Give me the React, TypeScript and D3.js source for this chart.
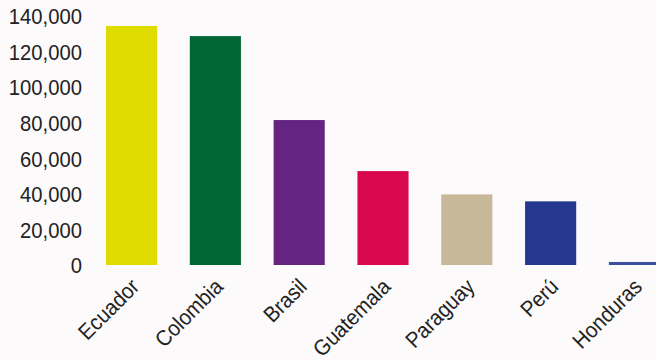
import React from "react";
import * as d3 from "d3";

const categories = ["Ecuador", "Colombia", "Brasil", "Guatemala", "Paraguay", "Perú", "Honduras"];
const values = [134400, 128700, 81500, 52800, 39700, 35800, 1700];
const colors = ["#e0dc00", "#006633", "#662482", "#d9084e", "#c8b89a", "#24388f", "#3b4f9c"];
const yTicks = [0, 20000, 40000, 60000, 80000, 100000, 120000, 140000];

const W = 656;
const H = 360;
const FONT = "'Liberation Sans', Arial, sans-serif";

export default function App() {
  const y = d3.scaleLinear().domain([0, 140000]).range([265, 16]);
  const x = d3
    .scaleBand<string>()
    .domain(categories)
    .range([106, 660])
    .paddingInner(0.39)
    .paddingOuter(0);
  const fmt = d3.format(",");
  return (
    <svg width={W} height={H} style={{ position: "absolute", left: 0, top: 0 }}>
      <rect x={0} y={0} width={W} height={H} fill="#fcfafa" />
      {yTicks.map((t) => (
        <text
          key={t}
          transform={`translate(82,${y(t) + 2.5}) scale(0.92,1)`}
          textAnchor="end"
          dominantBaseline="middle"
          fontFamily={FONT}
          fontSize={22}
          fill="#222"
        >
          {fmt(t)}
        </text>
      ))}
      {categories.map((c, i) => (
        <rect
          key={c}
          x={x(c)}
          y={y(values[i])}
          width={x.bandwidth()}
          height={y(0) - y(values[i])}
          fill={colors[i]}
        />
      ))}
      {categories.map((c) => {
        const cx = (x(c) as number) + x.bandwidth() / 2 + 9;
        const cy = 288;
        return (
          <text
            key={c}
            transform={`translate(${cx},${cy}) rotate(-45) scale(0.92,1)`}
            textAnchor="end"
            fontFamily={FONT}
            fontSize={22}
            fill="#222"
          >
            {c}
          </text>
        );
      })}
    </svg>
  );
}
